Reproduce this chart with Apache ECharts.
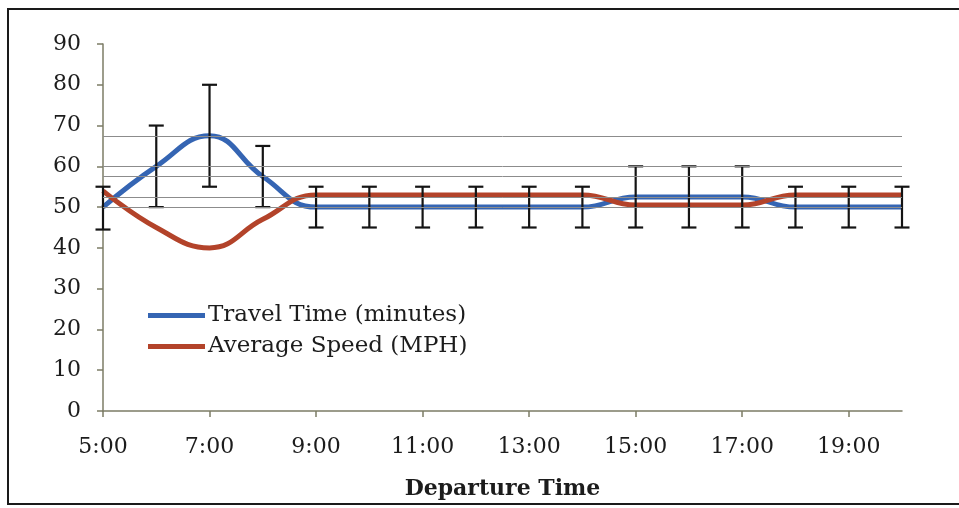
<!DOCTYPE html>
<html>
<head>
<meta charset="utf-8">
<script src="https://cdn.jsdelivr.net/npm/echarts@6/dist/echarts.min.js"></script>
<style>
  html, body { margin: 0; padding: 0; background: #fff; }
  #chart { width: 959px; height: 508px; }
</style>
</head>
<body>
<div id="chart"></div>
<script>
// Departure times, one per hour
const departureTimes = ['5:00','6:00','7:00','8:00','9:00','10:00','11:00','12:00',
  '13:00','14:00','15:00','16:00','17:00','18:00','19:00','20:00'];

// Travel time in minutes
const travelTime = [50, 60, 67.5, 57.5, 50, 50, 50, 50, 50, 50, 52.5, 52.5, 52.5, 50, 50, 50];

// Average speed in MPH
const avgSpeed = [54, 45, 40, 47, 53, 53, 53, 53, 53, 53, 50.5, 50.5, 50.5, 53, 53, 53];

// Error bar range on travel time
const errLow  = [44.5, 50, 55, 50, 45, 45, 45, 45, 45, 45, 45, 45, 45, 45, 45, 45];
const errHigh = [55, 70, 80, 65, 55, 55, 55, 55, 55, 55, 60, 60, 60, 55, 55, 55];

// Horizontal error lines sit at each distinct travel time
const levelLines = [67.5, 60, 57.5, 52.5, 50];

// Value axis ticks
const yMin = 0, yMax = 90, yStep = 10;

const FONT = 'DejaVu Serif';
const TEXT = '#1c1c1c';
const AXIS = '#7c7c66';

const chart = echarts.init(document.getElementById('chart'), null, { renderer: 'canvas' });

const errData = departureTimes.map((t, i) => [i, errLow[i], errHigh[i]]);

chart.setOption({
  animation: false,
  backgroundColor: '#fff',
  textStyle: { fontFamily: FONT },
  graphic: [{
    type: 'rect',
    shape: { x: 8, y: 9, width: 980, height: 495 },
    style: { fill: 'none', stroke: '#1a1a1a', lineWidth: 2 },
    silent: true,
    z: 0
  }],
  grid: { left: 103, right: 57, top: 44, bottom: 97, containLabel: false },
  legend: {
    orient: 'vertical',
    left: 143,
    top: 299,
    itemWidth: 57,
    itemHeight: 5,
    itemGap: 8,
    icon: 'rect',
    data: ['Travel Time (minutes)', 'Average Speed (MPH)'],
    textStyle: { fontFamily: FONT, fontSize: 23, color: TEXT, lineHeight: 23, padding: [0, 0, 0, -2] }
  },
  xAxis: {
    type: 'category',
    data: departureTimes,
    boundaryGap: false,
    name: 'Departure Time',
    nameLocation: 'middle',
    nameGap: 67,
    nameTextStyle: { fontFamily: FONT, fontSize: 22, fontWeight: 'bold', color: TEXT },
    axisLine: { show: true, lineStyle: { color: AXIS, width: 1.5 } },
    axisTick: { show: true, interval: 1, length: 6, lineStyle: { color: AXIS, width: 1.5 } },
    axisLabel: { interval: 1, margin: 25, fontFamily: FONT, fontSize: 22, color: TEXT },
    splitLine: { show: false }
  },
  yAxis: {
    type: 'value',
    min: yMin,
    max: yMax,
    interval: yStep,
    axisLine: { show: true, lineStyle: { color: AXIS, width: 1.5 } },
    axisTick: { show: true, length: 6, lineStyle: { color: AXIS, width: 1.5 } },
    axisLabel: { margin: 22, fontFamily: FONT, fontSize: 22, color: TEXT },
    splitLine: { show: false }
  },
  series: [
    {
      name: 'levels',
      type: 'line',
      data: [],
      z: 1,
      markLine: {
        silent: true,
        symbol: 'none',
        label: { show: false },
        lineStyle: { color: '#8c8c8c', width: 1, type: 'solid' },
        data: levelLines.map(v => ({ yAxis: v }))
      }
    },
    {
      name: 'Travel Time (minutes)',
      type: 'line',
      data: travelTime,
      smooth: 0.45,
      showSymbol: false,
      symbol: 'none',
      color: '#3565b3',
      lineStyle: { color: '#3565b3', width: 5 },
      z: 3
    },
    {
      name: 'Average Speed (MPH)',
      type: 'line',
      data: avgSpeed,
      smooth: 0.45,
      showSymbol: false,
      symbol: 'none',
      color: '#b3432a',
      lineStyle: { color: '#b3432a', width: 5 },
      z: 3
    },
    {
      name: 'error',
      type: 'custom',
      data: errData,
      encode: { x: 0, y: [1, 2] },
      z: 4,
      renderItem: function (params, api) {
        const idx = api.value(0);
        const lo = api.coord([idx, api.value(1)]);
        const hi = api.coord([idx, api.value(2)]);
        const half = 7.5;
        const style = { stroke: '#141414', lineWidth: 2.2 };
        return {
          type: 'group',
          children: [
            { type: 'line', shape: { x1: hi[0], y1: hi[1], x2: lo[0], y2: lo[1] }, style: style },
            { type: 'line', shape: { x1: hi[0] - half, y1: hi[1], x2: hi[0] + half, y2: hi[1] }, style: style },
            { type: 'line', shape: { x1: lo[0] - half, y1: lo[1], x2: lo[0] + half, y2: lo[1] }, style: style }
          ]
        };
      }
    }
  ]
});
</script>
</body>
</html>
